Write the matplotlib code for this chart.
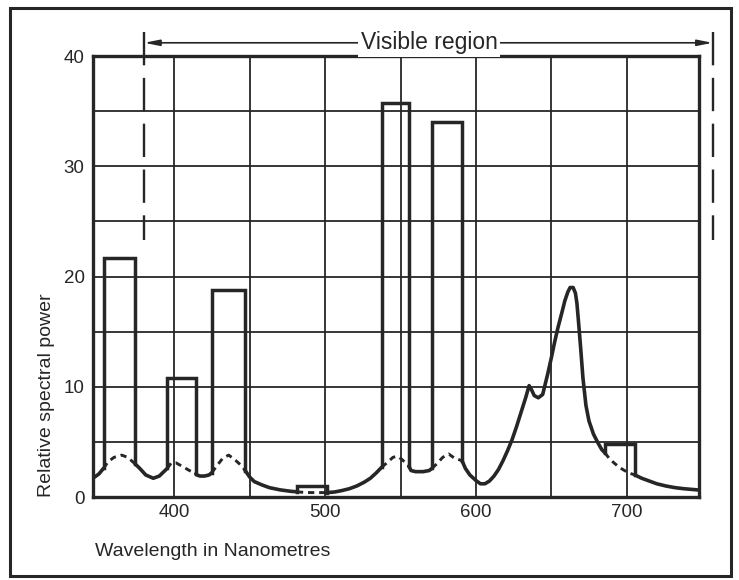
import numpy as np
import matplotlib
matplotlib.use("Agg")
from matplotlib import pyplot as plt
from matplotlib.patches import Rectangle
from matplotlib.ticker import MultipleLocator, FixedLocator

plt.rcParams["font.family"] = ["Liberation Sans", "DejaVu Sans"]
plt.rcParams["lines.scale_dashes"] = False

INK = "#262626"

# continuous (phosphor) spectrum, wavelength in nm / relative power
wl = [347, 350, 353, 356, 360, 365, 369, 374, 377, 381, 386, 390, 393,
      395.3, 398, 401, 405, 410, 414.2, 415, 417, 420, 423, 424.8, 428,
      432, 436, 440, 444, 447, 450, 453, 458, 463, 470, 477, 481.3, 486,
      491, 496, 501.2, 506, 511, 516, 521, 526, 530, 534, 537.5, 541, 545,
      548, 551, 555.5, 557, 560, 565, 569, 570.9, 574, 578, 582, 586,
      590.8, 593, 596, 600, 603, 606, 609, 612, 615, 618, 621, 624, 627,
      630, 633, 635.3, 637, 638.7, 641.4, 644.3, 647.7, 650, 652.3, 654.5,
      656.8, 659, 661, 662.5, 664.5, 666, 667, 668, 669.5, 671, 673, 675,
      678, 681, 683.5, 685.6, 689, 695, 701, 705.5, 710, 714, 720, 726,
      732, 738, 744, 748]
power = [1.8, 2.1, 2.6, 3.2, 3.6, 3.8, 3.6, 3.0, 2.6, 2.0, 1.7, 1.9, 2.3,
         2.6, 3.1, 3.1, 2.8, 2.4, 2.1, 2.0, 1.9, 1.9, 2.0, 2.2, 2.8,
         3.5, 3.8, 3.4, 2.9, 2.4, 1.8, 1.4, 1.1, 0.85, 0.65, 0.52, 0.47, 0.42,
         0.40, 0.40, 0.40, 0.45, 0.58, 0.75, 1.0, 1.35, 1.7, 2.2, 2.7, 3.1, 3.6,
         3.7, 3.4, 2.8, 2.4, 2.3, 2.3, 2.4, 2.6, 3.0, 3.6, 3.9, 3.5,
         3.3, 2.6, 2.0, 1.5, 1.2, 1.2, 1.45, 1.9, 2.5, 3.3, 4.2, 5.2, 6.4,
         7.7, 9.0, 10.1, 9.7, 9.2, 9.0, 9.3, 11.2, 12.6, 14.1, 15.4,
         16.6, 17.8, 18.6, 19.0, 19.0, 18.5, 17.6, 16.0, 13.5, 10.8, 8.3, 6.9,
         5.7, 4.9, 4.3, 4.0, 3.4, 2.7, 2.2, 2.0, 1.7, 1.5, 1.2, 1.0,
         0.85, 0.75, 0.68, 0.63]

# mercury line bands drawn as 20 nm blocks
band_lo = [353, 395.3, 424.8, 481.3, 537.5, 570.9, 685.6]
band_hi = [374, 414.2, 447, 501.2, 555.5, 590.8, 705.5]
band_top = [21.7, 10.8, 18.8, 1.0, 35.7, 34.0, 4.8]

x_major = [400, 500, 600, 700]
x_grid = [400, 450, 500, 550, 600, 650, 700]

wl = np.array(wl)
power = np.array(power)

fig = plt.figure(figsize=(7.39, 5.80), dpi=100)
ax = fig.add_axes([0.1258, 0.1431, 0.8201, 0.7603])

inside = np.zeros(len(wl), dtype=bool)
strict = np.zeros(len(wl), dtype=bool)
for lo, hi in zip(band_lo, band_hi):
    inside |= (wl >= lo) & (wl <= hi)
    strict |= (wl > lo) & (wl < hi)

solid = np.where(strict, np.nan, power)
dashed = np.where(inside, power, np.nan)
ax.plot(wl, solid, color=INK, lw=2.6, solid_capstyle="round",
        solid_joinstyle="round", zorder=3)
ax.plot(wl, dashed, color=INK, lw=2.1, linestyle=(0, (4.5, 3.5)), zorder=3)

for lo, hi, top in zip(band_lo, band_hi, band_top):
    yl = np.interp(lo, wl, power)
    yh = np.interp(hi, wl, power)
    ax.plot([lo, lo, hi, hi], [yl, top, top, yh], color=INK, lw=2.5,
            solid_joinstyle="miter", zorder=3)

ax.set_xlim(346, 748)
ax.set_ylim(0, 40)
ax.xaxis.set_major_locator(FixedLocator(x_major))
ax.xaxis.set_minor_locator(FixedLocator(x_grid))
ax.yaxis.set_major_locator(MultipleLocator(10))
ax.yaxis.set_minor_locator(MultipleLocator(5))
ax.grid(True, which="both", color=INK, lw=1.3)
ax.set_axisbelow(True)
ax.tick_params(which="both", length=0, labelsize=13.5, labelcolor=INK)
ax.tick_params(axis="x", pad=5)
ax.tick_params(axis="y", pad=6)
for s in ax.spines.values():
    s.set_linewidth(2.4)
    s.set_color(INK)

# visible region marker
for xv in (380, 757):
    ax.plot([xv, xv], [42.2, 23.3], color=INK, lw=1.7,
            linestyle=(0, (24, 9)), clip_on=False, zorder=4)
ax.annotate("", xy=(380, 41.2), xytext=(757, 41.2),
            arrowprops=dict(arrowstyle="<|-|>,head_length=0.9,head_width=0.18",
                            lw=1.2, color=INK, shrinkA=0, shrinkB=0),
            annotation_clip=False)
ax.text(569, 41.2, "Visible region", ha="center", va="center", fontsize=16.5,
        color=INK, bbox=dict(fc="white", ec="none", pad=2), clip_on=False,
        zorder=5)

fig.text(95 / 739, 1 - 551 / 580, "Wavelength in Nanometres", ha="left",
         va="center", fontsize=14, color=INK)
fig.text(47 / 739, 1 - 395 / 580, "Relative spectral power", ha="center",
         va="center", rotation=90, fontsize=14, color=INK)

fig.patches.append(Rectangle((0.0135, 0.007), 0.975, 0.979,
                             transform=fig.transFigure, fill=False,
                             lw=2.2, ec=INK))

fig.savefig("out.png", dpi=100)
